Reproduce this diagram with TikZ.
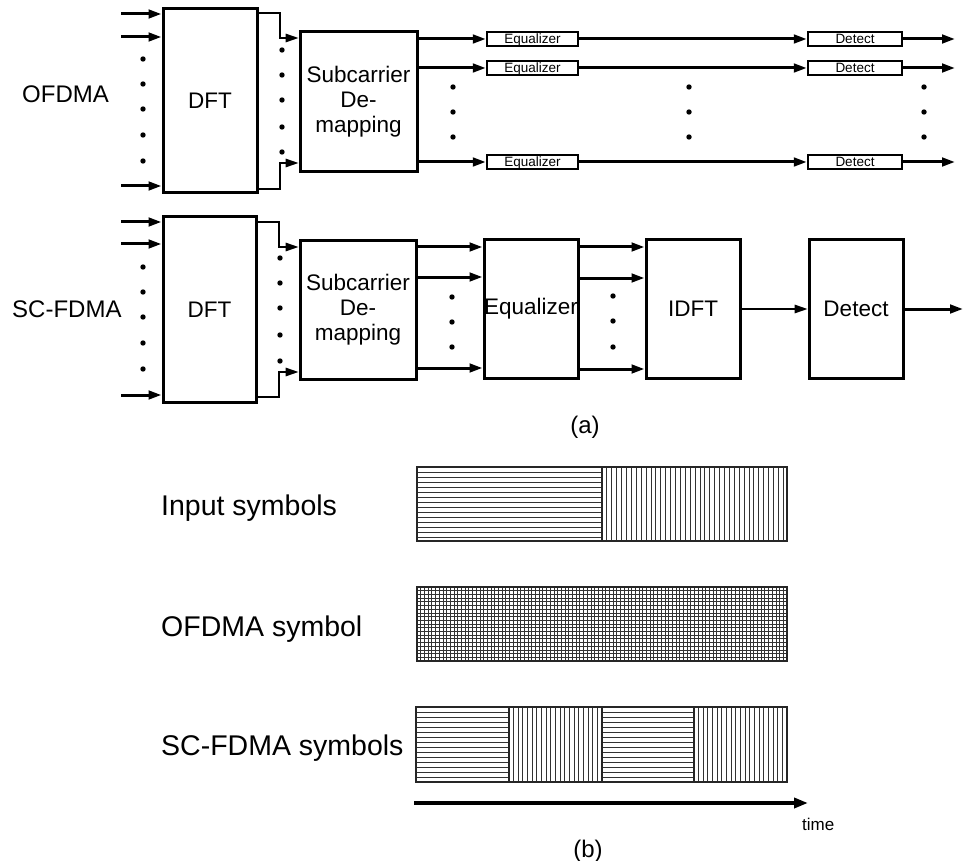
\documentclass[tikz,border=0pt]{standalone}
\usepackage{fontspec}
\setmainfont{Liberation Sans}
\usetikzlibrary{arrows.meta}
\begin{document}
\begin{tikzpicture}[x=1pt,y=-1pt,
  blk/.style={draw, line width=3pt, inner sep=0pt, align=center, font=\fontsize{22.5}{25}\selectfont},
  sblk/.style={draw, line width=2.4pt, inner sep=0pt, minimum width=91pt, minimum height=14pt, text depth=0pt, font=\fontsize{13.5}{14}\selectfont},
  conn/.style={line width=3pt, -{Triangle[length=13pt,width=8.5pt]}},
  thinconn/.style={line width=1.5pt, -{Triangle[length=13pt,width=8.5pt]}},
  lbl/.style={font=\fontsize{24}{28}\selectfont, inner sep=0pt},
  blbl/.style={font=\fontsize{28.5}{32}\selectfont, inner sep=0pt, anchor=base west},
  hatch/.style={line width=1pt, black!80},
  grid/.style={line width=0.75pt, black!80},
  frame/.style={line width=1.5pt, black!85},
]
\useasboundingbox[fill=white] (0,0) rectangle (964,861);

% ================= OFDMA =================
\node[lbl, anchor=base west] (lofdma) at (22,103) {OFDMA};
\node[blk, minimum width=94pt, minimum height=184pt] (dft1) at (210,101) {DFT};
\node[blk, minimum width=117pt, minimum height=140pt] (sc1) at (358.5,102) {Subcarrier\\De-\\mapping};

\foreach \r/\y in {a/39, b/68, c/162} {
  \node[sblk] (eq1\r) at (532.5,\y) {Equalizer};
  \node[sblk, minimum width=94pt] (det1\r) at (855,\y) {Detect};
  \coordinate (out1\r) at (955,\y);
  \draw[conn] (sc1.east |- eq1\r) -- (eq1\r.west);
  \draw[conn] (eq1\r.east) -- (det1\r.west);
  \draw[conn] (det1\r.east) -- (out1\r);
}

\foreach \r/\y in {a/14, b/37, c/186} {
  \coordinate (in1\r) at (121,\y);
  \draw[conn] (in1\r) -- (in1\r -| dft1.west);
}
\coordinate (k1a) at (280,13);
\coordinate (k1b) at (280,189);
\draw[thinconn] (dft1.east |- k1a) -- (k1a) -- (280,38) -- (sc1.west |- 0,38);
\draw[thinconn] (dft1.east |- k1b) -- (k1b) -- (280,163) -- (sc1.west |- 0,163);

\foreach \y in {59,84,109,135,161} \fill (143,\y) circle (2.7pt);
\foreach \y in {50,75,100,127,152} \fill (282,\y) circle (2.7pt);
\foreach \x in {453,689,924} \foreach \y in {87,112,137} \fill (\x,\y) circle (2.7pt);

% ================= SC-FDMA =================
\node[lbl, anchor=base west] (lsc) at (12,317) {SC-FDMA};
\node[blk, minimum width=93pt, minimum height=185pt] (dft2) at (209.5,309.5) {DFT};
\node[blk, minimum width=116pt, minimum height=138pt] (sc2) at (358,310) {Subcarrier\\De-\\mapping};
\node[blk, minimum width=94pt, minimum height=138pt] (eq2) at (531,309) {Equalizer};
\node[blk, minimum width=94pt, minimum height=138pt] (idft) at (693,309) {IDFT};
\node[blk, minimum width=94pt, minimum height=138pt] (det2) at (856,309) {Detect};
\coordinate (out2) at (963,309);

\foreach \r/\y in {a/222, b/244, c/395} {
  \coordinate (in2\r) at (121,\y);
  \draw[conn] (in2\r) -- (in2\r -| dft2.west);
}
\coordinate (k2a) at (279,222);
\coordinate (k2b) at (279,397);
\draw[thinconn] (dft2.east |- k2a) -- (k2a) -- (279,247) -- (sc2.west |- 0,247);
\draw[thinconn] (dft2.east |- k2b) -- (k2b) -- (279,372) -- (sc2.west |- 0,372);

\foreach \y in {247,277,368} \draw[conn] (sc2.east |- 0,\y) -- (eq2.west |- 0,\y);
\foreach \y in {247,278,369} \draw[conn] (eq2.east |- 0,\y) -- (idft.west |- 0,\y);
\draw[thinconn] (idft.east) -- (det2.west);
\draw[conn] (det2.east) -- (out2);

\foreach \y in {267,292,317,343,369} \fill (143,\y) circle (2.7pt);
\foreach \y in {258,283,308,335,361} \fill (280,\y) circle (2.7pt);
\foreach \y in {297,322,347} \fill (452,\y) circle (2.7pt);
\foreach \y in {296,321,347} \fill (613,\y) circle (2.7pt);

\node[lbl] (capa) at (585,427) {(a)};

% ================= (b) =================
\node[blbl] (lin) at (161,515) {Input symbols};
\node[blbl] (lofs) at (161,636) {OFDMA symbol};
\node[blbl] (lscs) at (161,755) {SC-FDMA symbols};

% Input symbols
\foreach \y in {472,477,...,537} \draw[hatch] (417,\y) -- (602,\y);
\foreach \x in {606.9,611.8,...,784} \draw[hatch] (\x,467) -- (\x,541);
\draw[frame] (417,467) rectangle (787,541);
\draw[frame] (602,467) -- (602,541);

% OFDMA symbol
\foreach \y in {590.7,594.4,...,659} \draw[grid] (417,\y) -- (787,\y);
\foreach \x in {420.7,424.4,...,785} \draw[grid] (\x,587) -- (\x,661);
\draw[frame] (417,587) rectangle (787,661);

% SC-FDMA symbols
\foreach \xa/\xb in {416/509, 602/694} {
  \foreach \y in {712,717,...,777} \draw[hatch] (\xa,\y) -- (\xb,\y);
}
\foreach \xa/\xb in {509/602, 694/787} {
  \foreach \i in {1,...,19} \draw[hatch] ({\xa+\i*4.65},707) -- ({\xa+\i*4.65},782);
}
\draw[frame] (416,707) rectangle (787,782);
\foreach \x in {509,602,694} \draw[frame] (\x,707) -- (\x,782);

% time axis
\coordinate (t0) at (414,803);
\coordinate (t1) at (808,803);
\draw[line width=3.8pt, -{Triangle[length=14pt,width=10pt]}] (t0) -- (t1);
\node[font=\fontsize{17}{20}\selectfont, inner sep=0pt, anchor=west] (ltime) at (802,824) {time};
\node[lbl] (capb) at (588,851) {(b)};
\end{tikzpicture}
\end{document}
